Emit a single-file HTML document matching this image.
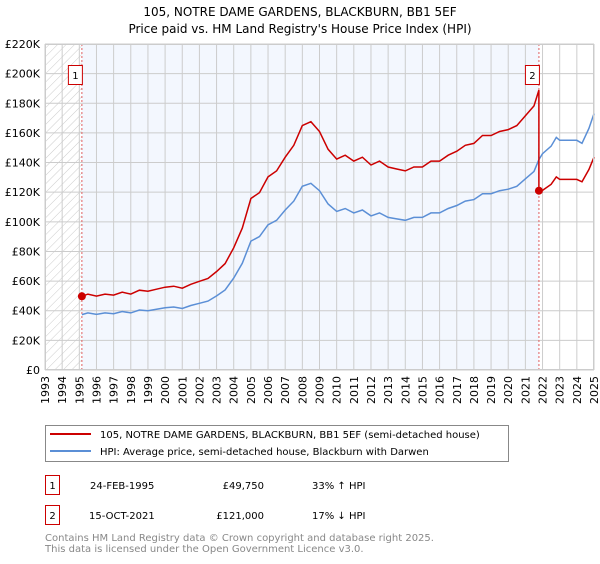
<!DOCTYPE html>
<html><head><meta charset="utf-8"><style>
body{margin:0;background:#fff;font-family:"DejaVu Sans","Liberation Sans",sans-serif;}
svg text{font-family:"DejaVu Sans","Liberation Sans",sans-serif;}
</style></head><body>
<svg id="c" width="600" height="560" xmlns="http://www.w3.org/2000/svg">
<defs><pattern id="hatch" width="6" height="6" patternUnits="userSpaceOnUse" patternTransform="rotate(45)"><line x1="0" y1="0" x2="0" y2="6" stroke="#ccc" stroke-width="1"/></pattern></defs>
<text x="300" y="16" text-anchor="middle" font-size="12">105, NOTRE DAME GARDENS, BLACKBURN, BB1 5EF</text>
<text x="300" y="33" text-anchor="middle" font-size="12">Price paid vs. HM Land Registry's House Price Index (HPI)</text>
<g id="plot"></g>
<g>
<rect x="45.5" y="425.5" width="463" height="36" fill="#fff" stroke="#888"/>
<line x1="50" y1="434" x2="91" y2="434" stroke="#cc0000" stroke-width="2"/>
<text x="100" y="438" font-size="10">105, NOTRE DAME GARDENS, BLACKBURN, BB1 5EF (semi-detached house)</text>
<line x1="50" y1="451" x2="91" y2="451" stroke="#5b8fd6" stroke-width="2"/>
<text x="100" y="455" font-size="10">HPI: Average price, semi-detached house, Blackburn with Darwen</text>
</g>
<g font-size="10">
<rect x="45.5" y="475.5" width="14" height="19" fill="#fff" stroke="#cc0000"/>
<text x="52.5" y="489" text-anchor="middle">1</text>
<text x="90" y="489">24-FEB-1995</text>
<text x="264" y="489" text-anchor="end">£49,750</text>
<text x="312" y="489">33% ↑ HPI</text>
<rect x="45.5" y="505.5" width="14" height="19" fill="#fff" stroke="#cc0000"/>
<text x="52.5" y="519" text-anchor="middle">2</text>
<text x="89" y="519">15-OCT-2021</text>
<text x="264" y="519" text-anchor="end">£121,000</text>
<text x="312" y="519">17% ↓ HPI</text>
</g>
<text x="45" y="541" font-size="10" fill="#888">Contains HM Land Registry data © Crown copyright and database right 2025.</text>
<text x="45" y="552" font-size="10" fill="#888">This data is licensed under the Open Government Licence v3.0.</text>
</svg>
<script>
const years=[1993,1994,1995,1996,1997,1998,1999,2000,2001,2002,2003,2004,2005,2006,2007,2008,2009,2010,2011,2012,2013,2014,2015,2016,2017,2018,2019,2020,2021,2022,2023,2024,2025];
const yTicks=[0,20,40,60,80,100,120,140,160,180,200,220];
const hpiT=[1995.15,1995.5,1996,1996.5,1997,1997.5,1998,1998.5,1999,1999.5,2000,2000.5,2001,2001.5,2002,2002.5,2003,2003.5,2004,2004.5,2005,2005.5,2006,2006.5,2007,2007.5,2008,2008.5,2009,2009.5,2010,2010.5,2011,2011.5,2012,2012.5,2013,2013.5,2014,2014.5,2015,2015.5,2016,2016.5,2017,2017.5,2018,2018.5,2019,2019.5,2020,2020.5,2021,2021.5,2021.79,2022,2022.5,2022.8,2023,2023.5,2024,2024.3,2024.7,2025];
const hpiV=[37.4,38.5,37.5,38.5,38,39.5,38.5,40.5,40,41,42,42.5,41.5,43.5,45,46.5,50,54,62,72,87,90,98,101,108,114,124,126,121,112,107,109,106,108,104,106,103,102,101,103,103,106,106,109,111,114,115,119,119,121,122,124,129,134,142,146,151,157,155,155,155,153,163,173];
const sales=[{t:1995.15,v:49.75,label:"1"},{t:2021.79,v:121,label:"2"}];
const ratio1=1.33, ratio2=0.83;
const x0=45,x1=594,yTop=44,yBot=370,yMax=220;
const X=t=>x0+(t-1993)/(2025-1993)*(x1-x0);
const Y=v=>yBot-v/yMax*(yBot-yTop);
const NS="http://www.w3.org/2000/svg";
const g=document.getElementById('plot');
function mk(tag,attrs,parent){const e=document.createElementNS(NS,tag);for(const k in attrs)e.setAttribute(k,attrs[k]);(parent||g).appendChild(e);return e;}
let r=mk('rect',{x:x0,y:yTop,width:X(sales[0].t)-x0,height:yBot-yTop,fill:'url(#hatch)'});


r=mk('rect',{x:X(sales[0].t),y:yTop,width:X(sales[1].t)-X(sales[0].t),height:yBot-yTop,fill:'#f3f7fe'});


years.forEach(yr=>{
 const l=mk('line',{x1:X(yr),x2:X(yr),y1:yTop,y2:yBot,stroke:'#ccc','stroke-width':1});
 
 
 const tx=mk('text',{x:0,y:0,'font-size':11,'text-anchor':'end',transform:`translate(${X(yr)+4},${yBot+6}) rotate(-90)`});
 tx.textContent=yr;
 
 
});
yTicks.forEach(v=>{
 const l=mk('line',{x1:x0,x2:x1,y1:Y(v),y2:Y(v),stroke:'#ccc','stroke-width':1});
 
 
 const tx=mk('text',{x:40,y:Y(v)+4,'font-size':11,'text-anchor':'end'});
 tx.textContent=v===0?'£0':'£'+v+'K';
 
 
});
sales.forEach(s=>{
 const l=mk('line',{x1:X(s.t),x2:X(s.t),y1:yTop,y2:yBot,stroke:'#e06060','stroke-width':1,'stroke-dasharray':'2,2'});
 
 
});
let hp='';hpiT.forEach((t,i)=>{hp+=(i?'L':'M')+X(t).toFixed(1)+','+Y(hpiV[i]).toFixed(1);});
let p=mk('path',{d:hp,fill:'none',stroke:'#5b8fd6','stroke-width':1.5});


let rp='';hpiT.forEach((t,i)=>{
 if(t<sales[1].t){rp+=(i?'L':'M')+X(t).toFixed(1)+','+Y(hpiV[i]*ratio1).toFixed(1);}
 else{ if(t===sales[1].t){rp+='L'+X(t).toFixed(1)+','+Y(hpiV[i]*ratio1).toFixed(1);} rp+='L'+X(t).toFixed(1)+','+Y(t===sales[1].t?sales[1].v:hpiV[i]*ratio2).toFixed(1);}
});
p=mk('path',{d:rp,fill:'none',stroke:'#cc0000','stroke-width':1.5});


sales.forEach(s=>{
 const c=mk('circle',{cx:X(s.t),cy:Y(s.v),r:4,fill:'#cc0000'});
 
 
 const bx=mk('rect',{x:X(s.t)-13.5,y:65.5,width:14,height:19,fill:'#fff',stroke:'#cc0000'});
 
 
 const tx=mk('text',{x:X(s.t)-6.5,y:79,'font-size':10,'text-anchor':'middle'});
 tx.textContent=s.label;
 
 
});
r=mk('rect',{x:x0+0.5,y:yTop+0.5,width:x1-x0-1,height:yBot-yTop-1,fill:'none',stroke:'#ccc'});


</script>
</body></html>
